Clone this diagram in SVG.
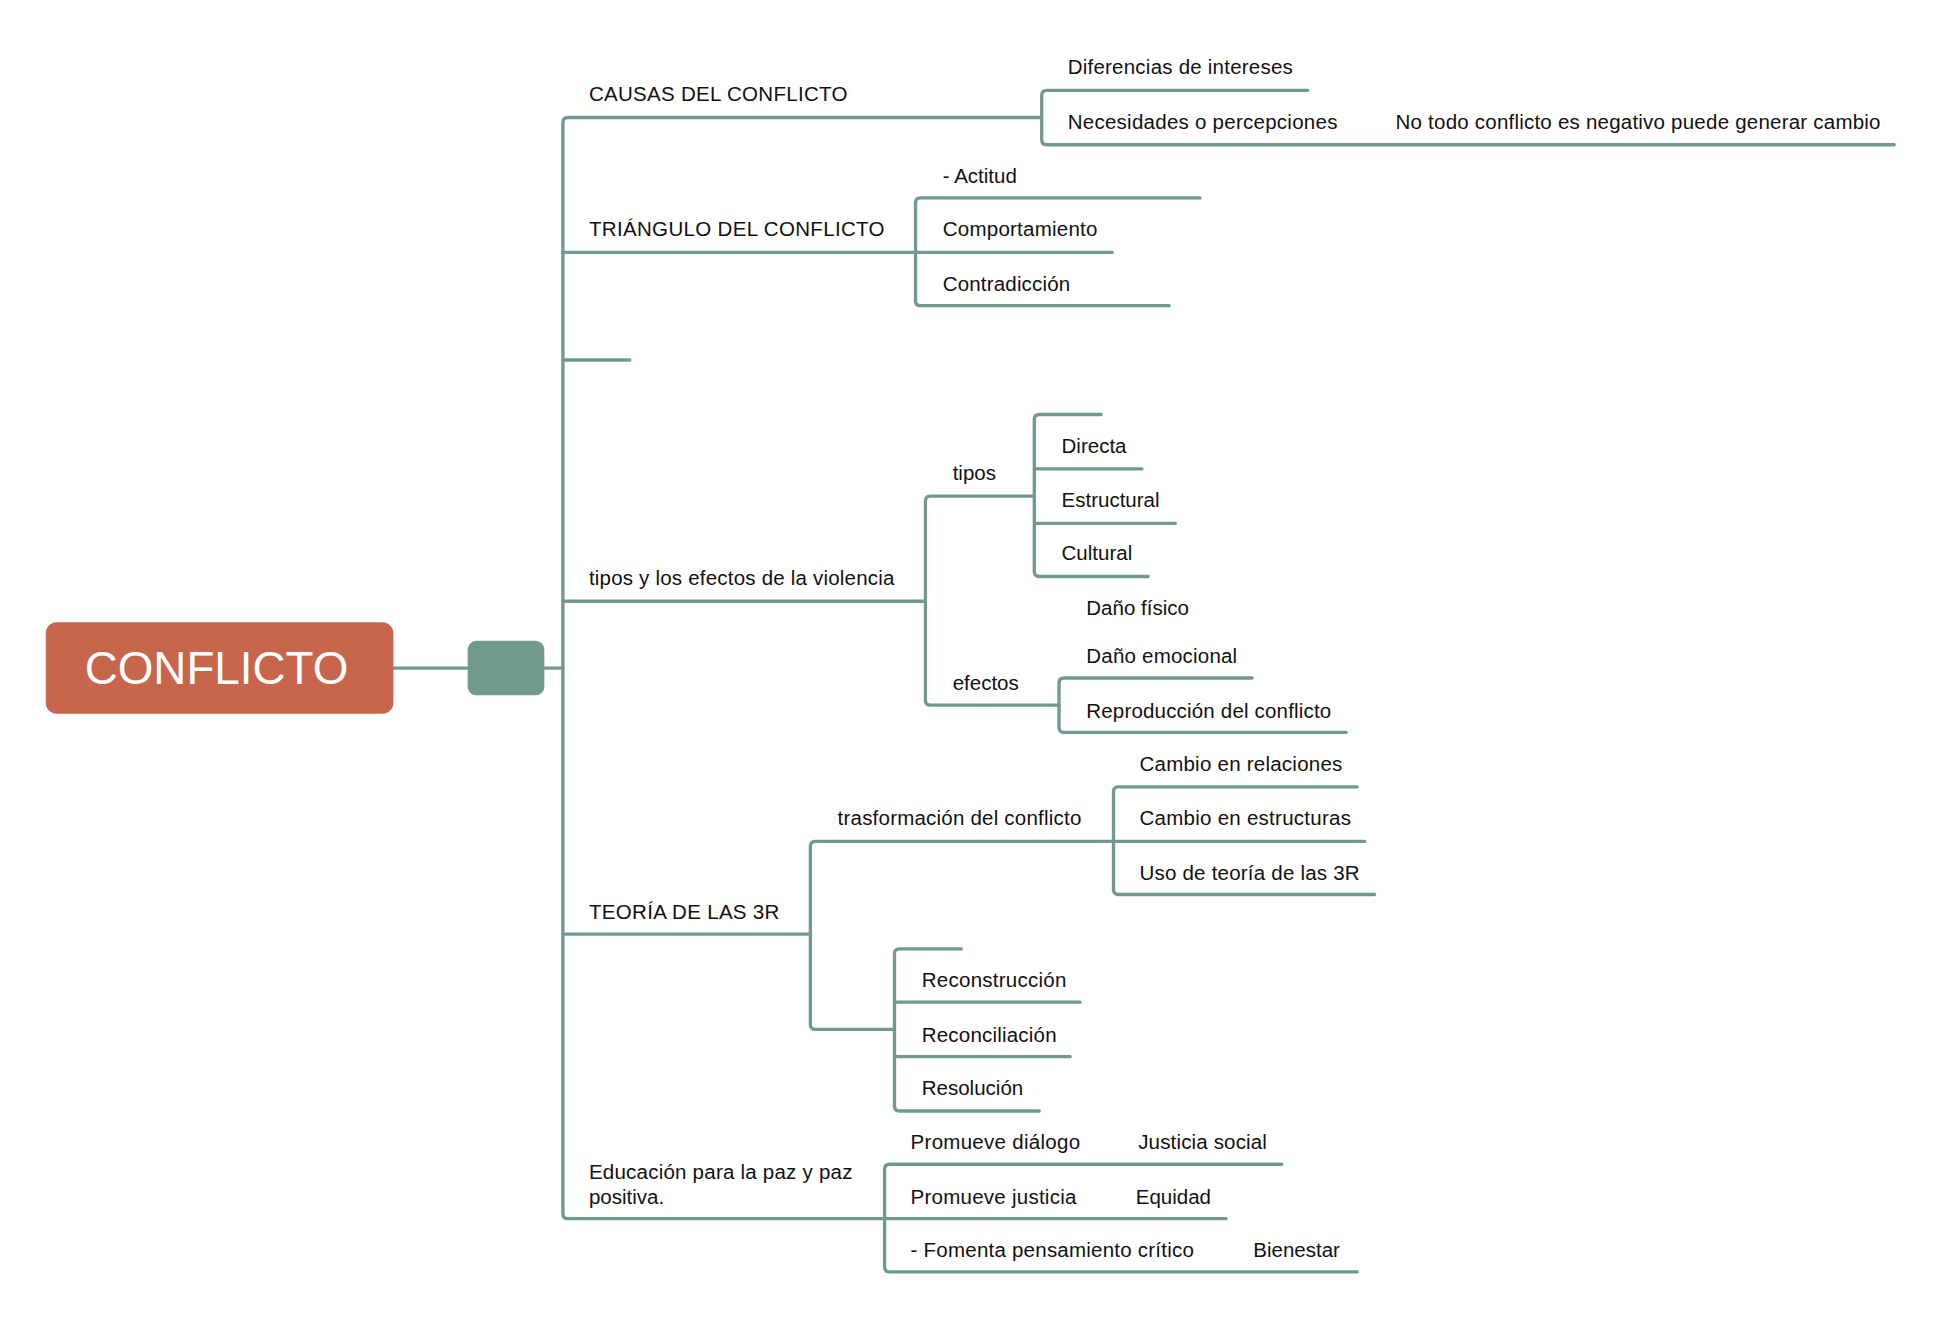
<svg xmlns="http://www.w3.org/2000/svg" width="1940" height="1332" viewBox="0 0 1940 1332">
<style>
.c{fill:none;stroke:#729A8B;stroke-width:2.7;stroke-linecap:round}
text{font-family:"Liberation Sans",Arial,sans-serif;font-size:16.6px;fill:#111}
</style>
<rect width="1940" height="1332" fill="#fff"/>
<g transform="scale(1.2372)">
<g id="connectors">
<path class="c" d="M318,540 H378 M440,540 H455"/>
<path class="c" d="M842,95 H459 Q455,95 455,99 V981 Q455,985 459,985 H715"/>
<path class="c" d="M455,204 H740 M455,291 H509 M455,486 H748 M455,755 H655"/>
<path class="c" d="M1057,73 H846 Q842,73 842,77 V113 Q842,117 846,117 H1531"/>
<path class="c" d="M970,160 H744 Q740,160 740,164 V243 Q740,247 744,247 H945 M740,204 H899"/>
<path class="c" d="M836,401 H752 Q748,401 748,405 V566 Q748,570 752,570 H856"/>
<path class="c" d="M890,335 H840 Q836,335 836,339 V462 Q836,466 840,466 H928 M836,379 H923 M836,423 H950"/>
<path class="c" d="M1012,548 H860 Q856,548 856,552 V588 Q856,592 860,592 H1088"/>
<path class="c" d="M900,680 H659 Q655,680 655,684 V828 Q655,832 659,832 H723"/>
<path class="c" d="M1097,636 H904 Q900,636 900,640 V719 Q900,723 904,723 H1111 M900,680 H1103"/>
<path class="c" d="M777,767 H727 Q723,767 723,771 V894 Q723,898 727,898 H840 M723,810 H873 M723,854 H865"/>
<path class="c" d="M1036,941 H719 Q715,941 715,945 V1024 Q715,1028 719,1028 H1097 M715,985 H991"/>
</g>
<g id="root"><rect x="37" y="503" width="281" height="74" rx="9" fill="#C8654D"/><text x="175" y="553" text-anchor="middle" style="font-size:37px;fill:#fff">CONFLICTO</text></g>
<g id="hub"><rect x="378" y="518" width="62" height="44" rx="7" fill="#729A8B"/></g>
<g id="n-causas"><text x="476" y="82" textLength="209">CAUSAS DEL CONFLICTO</text></g>
<g id="n-dif"><text x="863" y="60" textLength="182">Diferencias de intereses</text></g>
<g id="n-nec"><text x="863" y="104" textLength="218">Necesidades o percepciones</text></g>
<g id="n-notodo"><text x="1128" y="104" textLength="392">No todo conflicto es negativo puede generar cambio</text></g>
<g id="n-tri"><text x="476" y="191" textLength="239">TRIÁNGULO DEL CONFLICTO</text></g>
<g id="n-act"><text x="762" y="148">- Actitud</text></g>
<g id="n-comp"><text x="762" y="191" textLength="125">Comportamiento</text></g>
<g id="n-contra"><text x="762" y="235" textLength="103">Contradicción</text></g>
<g id="n-empty"></g>
<g id="n-tipos-efectos"><text x="476" y="473" textLength="247">tipos y los efectos de la violencia</text></g>
<g id="n-tipos"><text x="770" y="388">tipos</text></g>
<g id="n-dir"><text x="858" y="366">Directa</text></g>
<g id="n-est"><text x="858" y="410">Estructural</text></g>
<g id="n-cul"><text x="858" y="453">Cultural</text></g>
<g id="n-efectos"><text x="770" y="558">efectos</text></g>
<g id="n-fis"><text x="878" y="497">Daño físico</text></g>
<g id="n-emo"><text x="878" y="536" textLength="122">Daño emocional</text></g>
<g id="n-rep"><text x="878" y="580" textLength="198">Reproducción del conflicto</text></g>
<g id="n-3r"><text x="476" y="743" textLength="154">TEORÍA DE LAS 3R</text></g>
<g id="n-tras"><text x="677" y="667" textLength="197">trasformación del conflicto</text></g>
<g id="n-rel"><text x="921" y="623" textLength="164">Cambio en relaciones</text></g>
<g id="n-estr"><text x="921" y="667" textLength="171">Cambio en estructuras</text></g>
<g id="n-uso"><text x="921" y="711" textLength="178">Uso de teoría de las 3R</text></g>
<g id="n-recons"><text x="745" y="798" textLength="117">Reconstrucción</text></g>
<g id="n-recon"><text x="745" y="842" textLength="109">Reconciliación</text></g>
<g id="n-reso"><text x="745" y="885">Resolución</text></g>
<g id="n-edu"><text x="476" y="953" textLength="213">Educación para la paz y paz</text><text x="476" y="973">positiva.</text></g>
<g id="n-dia"><text x="736" y="929" textLength="137">Promueve diálogo</text></g>
<g id="n-jus"><text x="920" y="929" textLength="104">Justicia social</text></g>
<g id="n-pj"><text x="736" y="973" textLength="134">Promueve justicia</text></g>
<g id="n-eq"><text x="918" y="973">Equidad</text></g>
<g id="n-fom"><text x="736" y="1016" textLength="229">- Fomenta pensamiento crítico</text></g>
<g id="n-bien"><text x="1013" y="1016">Bienestar</text></g>
</g>
</svg>
